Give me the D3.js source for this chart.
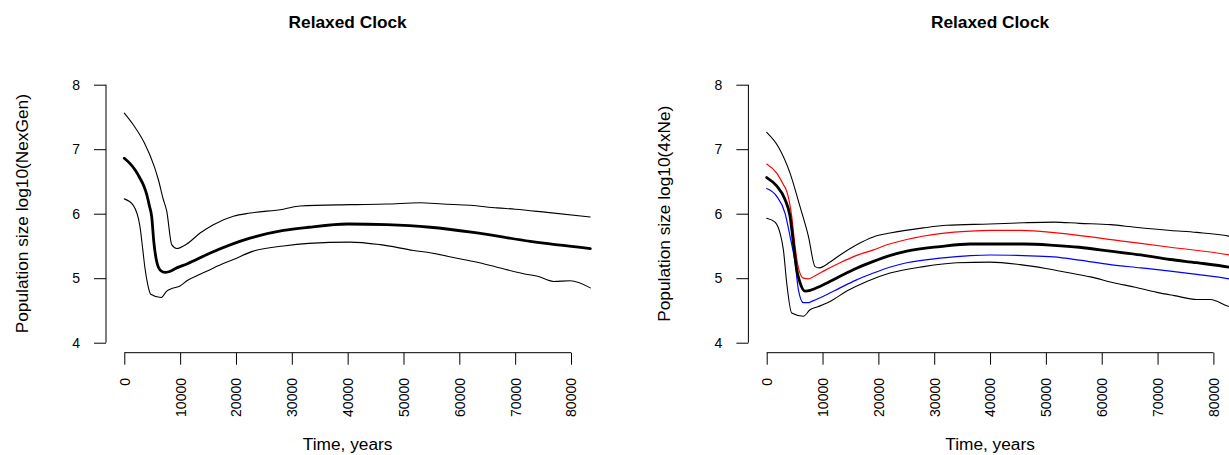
<!DOCTYPE html>
<html>
<head>
<meta charset="utf-8">
<script src="https://cdn.jsdelivr.net/npm/d3@7"></script>
<style>
  html, body { margin: 0; padding: 0; background: #fff; }
  svg { display: block; font-family: "Liberation Sans", Arial, Helvetica, sans-serif; }
</style>
</head>
<body>
<svg id="chart" width="1229" height="455"></svg>
<script>
// Tick values
const xTicks = [0, 10000, 20000, 30000, 40000, 50000, 60000, 70000, 80000];
const yTicks = [4, 5, 6, 7, 8];

// Left panel: NexGen skyline, [years, log10 size]
const leftUpper = [[0,7.56],[1600,7.38],[3584,7.10],[5376,6.73],[6090,6.53],[6990,6.22],[7600,6.04],[8490,5.52],[9390,5.46],[11180,5.53],[13570,5.70],[15950,5.83],[19530,5.96],[22530,6.01],[28490,6.07],[31490,6.12],[40450,6.14],[47000,6.15],[53000,6.17],[57000,6.15],[61970,6.13],[66740,6.09],[70000,6.07],[75700,6.02],[83460,5.95]];
const leftMedian = [[0,6.86],[1000,6.78],[2000,6.67],[2810,6.55],[3500,6.43],[4010,6.30],[4500,6.12],[4910,5.95],[5300,5.55],[5800,5.26],[6500,5.12],[7300,5.09],[8000,5.10],[9400,5.16],[11200,5.22],[15400,5.39],[22500,5.62],[28500,5.74],[33000,5.79],[40000,5.84],[47000,5.83],[54800,5.79],[62500,5.71],[72700,5.57],[83460,5.46]];
const leftLower = [[0,6.23],[1610,6.13],[2810,5.80],[3300,5.45],[3710,5.15],[4200,4.90],[4730,4.75],[6580,4.70],[7600,4.80],[8500,4.84],[9990,4.88],[11200,4.96],[13570,5.06],[16000,5.16],[19530,5.29],[23120,5.42],[28490,5.50],[33000,5.54],[40450,5.56],[45810,5.52],[51800,5.43],[55000,5.39],[59570,5.31],[63000,5.25],[66740,5.17],[71510,5.07],[74000,5.03],[76880,4.95],[79870,4.96],[83460,4.85]];

// Right panel: 4xNe skyline, [years, log10 size]
const rightUpper = [[0,7.26],[2200,7.02],[4180,6.63],[5970,6.11],[7470,5.65],[8660,5.18],[9390,5.16],[11350,5.25],[13140,5.36],[16120,5.52],[19110,5.64],[22090,5.70],[28070,5.78],[32250,5.82],[39960,5.84],[46000,5.86],[51370,5.87],[56000,5.85],[61570,5.83],[66000,5.79],[72330,5.74],[77000,5.71],[82900,5.65],[83460,5.64]];
const rightRed = [[0,6.77],[1790,6.63],[3000,6.45],[3580,6.35],[4480,5.96],[5080,5.49],[5680,5.16],[6570,5.00],[7470,4.99],[8500,5.03],[10160,5.11],[13140,5.24],[16000,5.35],[19110,5.44],[22000,5.53],[25090,5.60],[31060,5.69],[36490,5.73],[40000,5.74],[45400,5.74],[54350,5.68],[63310,5.58],[72270,5.48],[82850,5.36],[83460,5.35]];
const rightMedian = [[0,6.56],[1790,6.43],[3280,6.22],[4180,5.96],[4780,5.55],[5380,5.13],[5970,4.93],[6870,4.80],[7760,4.81],[8060,4.82],[10160,4.90],[13140,5.03],[16000,5.15],[19110,5.26],[22000,5.35],[25090,5.42],[31060,5.49],[36490,5.53],[40000,5.53],[46000,5.53],[51370,5.51],[56000,5.48],[61520,5.42],[67000,5.36],[72270,5.29],[77000,5.24],[82850,5.17],[83460,5.16]];
const rightBlue = [[0,6.39],[1790,6.27],[3280,6.01],[4180,5.65],[5080,5.24],[5680,4.82],[6570,4.62],[7470,4.62],[8060,4.64],[10160,4.72],[13140,4.85],[16000,4.97],[19110,5.08],[22000,5.17],[25090,5.24],[31060,5.31],[36490,5.35],[40000,5.36],[46000,5.35],[51370,5.33],[56000,5.28],[61520,5.21],[67000,5.16],[72270,5.11],[77000,5.06],[82850,4.99],[83460,4.98]];
const rightLower = [[0,5.93],[1490,5.87],[2390,5.70],[2990,5.44],[3580,4.93],[4480,4.46],[6570,4.41],[7760,4.51],[9250,4.56],[11350,4.64],[14340,4.80],[17920,4.95],[22090,5.08],[28070,5.18],[34050,5.24],[40000,5.25],[45400,5.21],[50000,5.15],[54350,5.08],[58000,5.02],[62120,4.93],[66000,4.86],[69890,4.78],[73000,4.73],[77060,4.67],[79450,4.67],[82850,4.56],[83460,4.55]];

const titles = ["Relaxed Clock", "Relaxed Clock"];
const yTitles = ["Population size log10(NexGen)", "Population size log10(4xNe)"];
const xTitle = "Time, years";

const svg = d3.select("#chart");

function panel(offsetX, title, yTitle, series) {
  const g = svg.append("g").attr("transform", `translate(${offsetX},0)`);
  const x = d3.scaleLinear().domain([0, 80000]).range([124.3, 571]);
  const y = d3.scaleLinear().domain([4, 8]).range([342.7, 84.7]);

  const line = d3.line()
    .x(d => x(d[0]))
    .y(d => y(d[1]))
    .curve(d3.curveMonotoneX);

  series.forEach(s => {
    g.append("path")
      .attr("d", line(s.data))
      .attr("fill", "none")
      .attr("stroke", s.color)
      .attr("stroke-width", s.width)
      .attr("stroke-linejoin", "round")
      .attr("stroke-linecap", "round");
  });

  // y axis on the left, offset from the plot
  const yAxis = d3.axisLeft(y).tickValues(yTicks).tickSize(12).tickPadding(14).tickFormat(d3.format("d"));
  const ya = g.append("g").attr("transform", "translate(106,0)").call(yAxis);
  ya.select(".domain").attr("d", `M0,${y(4)}V${y(8)}`).attr("stroke", "#000");
  ya.selectAll(".tick line").attr("stroke", "#000");
  ya.selectAll(".tick text").attr("font-size", 14).attr("fill", "#000")
    .attr("font-family", "Liberation Sans, Arial, sans-serif");

  // x axis below, labels turned vertical
  const xAxis = d3.axisBottom(x).tickValues(xTicks).tickSize(12).tickFormat(d3.format("d"));
  const xa = g.append("g").attr("transform", "translate(0,352.7)").call(xAxis);
  xa.select(".domain").attr("d", `M${x(0)},0H${x(80000)}`).attr("stroke", "#000");
  xa.selectAll(".tick line").attr("stroke", "#000");
  xa.selectAll(".tick text")
    .attr("font-size", 14).attr("fill", "#000")
    .attr("font-family", "Liberation Sans, Arial, sans-serif")
    .attr("text-anchor", "end")
    .attr("transform", "translate(0,25.3) rotate(-90)")
    .attr("x", 0).attr("y", 0).attr("dy", "0.35em");

  g.append("text")
    .attr("x", (x(0) + x(80000)) / 2).attr("y", 27.7)
    .attr("text-anchor", "middle")
    .attr("font-size", 17.3).attr("font-weight", "bold")
    .text(title);

  g.append("text")
    .attr("x", (x(0) + x(80000)) / 2).attr("y", 450)
    .attr("text-anchor", "middle")
    .attr("font-size", 17.3)
    .text(xTitle);

  g.append("text")
    .attr("transform", `translate(28,${(y(4) + y(8)) / 2}) rotate(-90)`)
    .attr("text-anchor", "middle")
    .attr("font-size", 17.3)
    .text(yTitle);
}

panel(0, titles[0], yTitles[0], [
  { data: leftUpper, color: "#000", width: 1.1 },
  { data: leftLower, color: "#000", width: 1.1 },
  { data: leftMedian, color: "#000", width: 2.8 }
]);

panel(642.4, titles[1], yTitles[1], [
  { data: rightUpper, color: "#000", width: 1.1 },
  { data: rightLower, color: "#000", width: 1.1 },
  { data: rightRed, color: "#ff0000", width: 1.2 },
  { data: rightBlue, color: "#0000ff", width: 1.2 },
  { data: rightMedian, color: "#000", width: 2.8 }
]);
</script>
</body>
</html>
